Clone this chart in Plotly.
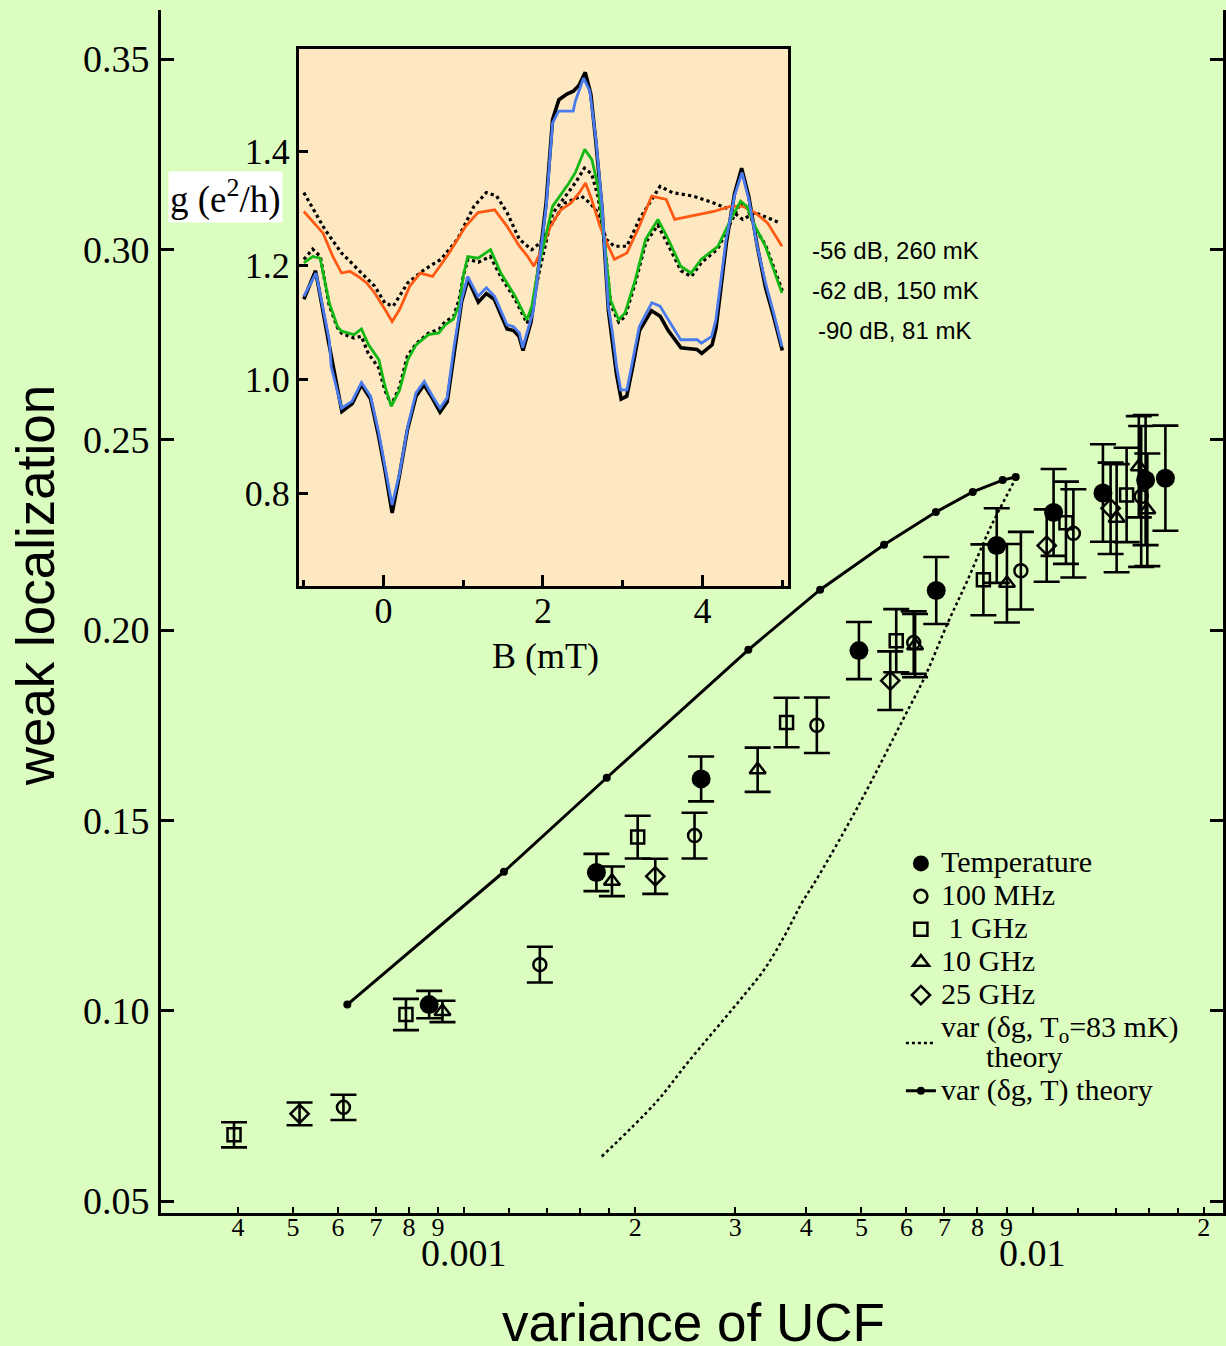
import math
import plotly.graph_objects as go

# ---------------- main panel: weak localization vs. UCF variance ----------------
temp_x = [8.68e-4, 1.709e-3, 2.612e-3, 4.95e-3, 6.77e-3, 8.65e-3, 1.089e-2, 1.33e-2, 1.581e-2, 1.713e-2]
temp_y = [0.1016, 0.1363, 0.1609, 0.1946, 0.2104, 0.2222, 0.2309, 0.2360, 0.2394, 0.2399]
temp_err = [0.0036, 0.0049, 0.0059, 0.0075, 0.0088, 0.0098, 0.0114, 0.0128, 0.0171, 0.0138]

mhz100_x = [6.133e-4, 1.359e-3, 2.543e-3, 4.174e-3, 6.18e-3, 9.539e-3, 1.18e-2, 1.553e-2]
mhz100_y = [0.0746, 0.1121, 0.1460, 0.1750, 0.1967, 0.2156, 0.2254, 0.2351]
mhz100_err = [0.0033, 0.0047, 0.0060, 0.0073, 0.0082, 0.0102, 0.0116, 0.0185]

ghz1_x = [3.937e-4, 7.9e-4, 2.02e-3, 3.692e-3, 5.757e-3, 8.195e-3, 1.145e-2, 1.464e-2]
ghz1_y = [0.0674, 0.0990, 0.1456, 0.1757, 0.1972, 0.2132, 0.2282, 0.2355]
ghz1_err = [0.0033, 0.0041, 0.0056, 0.0065, 0.0083, 0.0093, 0.0108, 0.0124]

ghz10_x = [9.16e-4, 1.82e-3, 3.284e-3, 6.214e-3, 9.015e-3, 1.406e-2, 1.538e-2, 1.592e-2]
ghz10_y = [0.0998, 0.1340, 0.1633, 0.1959, 0.2123, 0.2294, 0.2429, 0.2316]
ghz10_err = [0.0028, 0.0039, 0.0058, 0.0083, 0.0103, 0.0142, 0.0133, 0.0148]

ghz25_x = [5.134e-4, 2.169e-3, 5.619e-3, 1.059e-2, 1.372e-2]
ghz25_y = [0.0729, 0.1353, 0.1867, 0.2222, 0.2320]
ghz25_err = [0.0030, 0.0046, 0.0077, 0.0095, 0.0120]

theoT_x = [6.23e-4, 1.175e-3, 1.782e-3, 3.162e-3, 4.23e-3, 5.48e-3, 6.76e-3, 7.85e-3, 8.86e-3, 9.34e-3]
theoT_y = [0.1016, 0.1365, 0.1612, 0.1948, 0.2106, 0.2224, 0.2310, 0.2363, 0.2394, 0.2402]

theoT0_x = [1.746e-3, 2.172e-3, 2.481e-3, 3.124e-3, 3.387e-3, 3.672e-3, 3.917e-3, 4.196e-3,
            4.97e-3, 5.912e-3, 6.463e-3, 7.095e-3, 7.691e-3, 8.441e-3, 9.299e-3, 9.34e-3]
theoT0_y = [0.0617, 0.0758, 0.0866, 0.1045, 0.1112, 0.1200, 0.1280, 0.1352,
            0.1546, 0.1764, 0.1877, 0.2019, 0.2132, 0.2271, 0.2394, 0.2402]

x_tickvals = [4e-4, 5e-4, 6e-4, 7e-4, 8e-4, 9e-4, 1e-3, 2e-3, 3e-3, 4e-3, 5e-3, 6e-3,
              7e-3, 8e-3, 9e-3, 1e-2, 2e-2]
x_ticktext = ["4", "5", "6", "7", "8", "9", "", "2", "3", "4", "5", "6", "7", "8", "9", "", "2"]
x_minor = [1.2e-3, 1.4e-3, 1.6e-3, 1.8e-3, 1.2e-2, 1.4e-2, 1.6e-2, 1.8e-2]
decade_vals = [1e-3, 1e-2]
decade_text = ["0.001", "0.01"]
y_tickvals = [0.05, 0.10, 0.15, 0.20, 0.25, 0.30, 0.35]
y_ticktext = ["0.05", "0.10", "0.15", "0.20", "0.25", "0.30", "0.35"]

# ---------------- inset: conductance traces g(B) ----------------
blue_B = [-0.997, -0.845, -0.679, -0.654, -0.524, -0.394, -0.275, -0.161, -0.057, 0.021, 0.109,
          0.203, 0.306, 0.409, 0.512, 0.616, 0.710, 0.798, 0.886, 0.980, 1.057, 1.186, 1.290,
          1.394, 1.550, 1.628, 1.705, 1.746, 1.834, 1.880, 1.938, 2.041, 2.120, 2.196, 2.379,
          2.405, 2.509, 2.587, 2.664, 2.741, 2.819, 2.871, 2.923, 2.975, 3.052, 3.130, 3.207,
          3.364, 3.467, 3.571, 3.726, 3.934, 3.985, 4.115, 4.167, 4.296, 4.400, 4.494, 4.581,
          4.685, 4.789, 4.891, 4.996]
blue_g = [1.145, 1.186, 1.069, 1.022, 0.949, 0.961, 0.994, 0.970, 0.905, 0.847, 0.779,
          0.835, 0.917, 0.976, 0.996, 0.970, 0.949, 0.967, 1.057, 1.139, 1.180, 1.145, 1.160,
          1.145, 1.095, 1.092, 1.081, 1.055, 1.100, 1.120, 1.186, 1.303, 1.449, 1.470, 1.470,
          1.487, 1.528, 1.505, 1.420, 1.303, 1.128, 1.081, 1.022, 0.981, 0.981, 1.034, 1.092,
          1.134, 1.128, 1.104, 1.069, 1.069, 1.063, 1.075, 1.104, 1.245, 1.321, 1.362, 1.315,
          1.233, 1.169, 1.116, 1.057]

raw90_B = [-0.997, -0.85, -0.68, -0.52, -0.39, -0.275, -0.16, -0.06, 0.02, 0.11, 0.2, 0.3,
           0.41, 0.51, 0.62, 0.71, 0.8, 0.89, 0.98, 1.06, 1.19, 1.29, 1.39, 1.55, 1.63, 1.70,
           1.75, 1.85, 1.94, 2.04, 2.12, 2.2, 2.3, 2.38, 2.45, 2.53, 2.6, 2.66, 2.74, 2.82,
           2.87, 2.92, 2.98, 3.05, 3.13, 3.21, 3.36, 3.47, 3.57, 3.73, 3.93, 3.99, 4.12, 4.17,
           4.3, 4.4, 4.49, 4.58, 4.69, 4.79, 4.89, 5.0]
raw90_g = [1.14, 1.19, 1.06, 0.943, 0.957, 0.99, 0.965, 0.90, 0.84, 0.765, 0.83, 0.91,
           0.97, 0.99, 0.965, 0.942, 0.96, 1.05, 1.135, 1.175, 1.135, 1.15, 1.14, 1.088, 1.085,
           1.075, 1.05, 1.10, 1.19, 1.31, 1.455, 1.49, 1.50, 1.505, 1.515, 1.538, 1.50, 1.42,
           1.30, 1.12, 1.07, 1.01, 0.965, 0.97, 1.025, 1.085, 1.12, 1.11, 1.085, 1.055, 1.052,
           1.045, 1.06, 1.09, 1.24, 1.325, 1.37, 1.32, 1.23, 1.16, 1.11, 1.05]

green_B = [-0.997, -0.886, -0.793, -0.679, -0.575, -0.524, -0.368, -0.275, -0.186, -0.057,
           0.021, 0.099, 0.203, 0.306, 0.409, 0.565, 0.695, 0.773, 0.876, 0.95, 1.0, 1.057,
           1.186, 1.343, 1.472, 1.653, 1.799, 1.86, 1.938, 2.12, 2.326, 2.405, 2.524, 2.613,
           2.69, 2.768, 2.846, 2.949, 3.028, 3.157, 3.286, 3.441, 3.571, 3.726, 3.856, 3.985,
           4.193, 4.374, 4.478, 4.555, 4.659, 4.789, 4.891, 4.996]
green_g = [1.204, 1.215, 1.212, 1.134, 1.092, 1.084, 1.078, 1.088, 1.060, 1.034,
           0.987, 0.952, 0.981, 1.034, 1.060, 1.078, 1.081, 1.095, 1.105, 1.13, 1.18, 1.215,
           1.212, 1.227, 1.186, 1.145, 1.104, 1.128, 1.192, 1.303, 1.344, 1.362, 1.403, 1.385,
           1.338, 1.245, 1.139, 1.104, 1.116, 1.174, 1.245, 1.280, 1.245, 1.198, 1.186, 1.210,
           1.233, 1.286, 1.312, 1.303, 1.268, 1.233, 1.192, 1.151]

raw62_B = [-0.997, -0.886, -0.79, -0.68, -0.575, -0.52, -0.37, -0.275, -0.19, -0.06, 0.02,
           0.1, 0.2, 0.3, 0.41, 0.56, 0.7, 0.77, 0.88, 0.95, 1.0, 1.06, 1.19, 1.34, 1.47, 1.65,
           1.8, 1.86, 1.94, 2.12, 2.33, 2.41, 2.52, 2.61, 2.69, 2.77, 2.85, 2.95, 3.03, 3.16,
           3.29, 3.44, 3.57, 3.73, 3.86, 3.99, 4.19, 4.37, 4.48, 4.56, 4.66, 4.79, 4.89, 5.0]
raw62_g = [1.21, 1.228, 1.215, 1.13, 1.09, 1.08, 1.072, 1.075, 1.045, 1.02, 0.98,
           0.955, 0.985, 1.04, 1.062, 1.08, 1.088, 1.10, 1.11, 1.14, 1.18, 1.21, 1.205, 1.215,
           1.18, 1.14, 1.098, 1.12, 1.18, 1.29, 1.33, 1.345, 1.37, 1.36, 1.32, 1.24, 1.13, 1.10,
           1.11, 1.17, 1.24, 1.27, 1.235, 1.19, 1.18, 1.205, 1.228, 1.28, 1.31, 1.30, 1.265,
           1.235, 1.195, 1.155]

orange_B = [-0.997, -0.886, -0.756, -0.634, -0.524, -0.42, -0.316, -0.213, -0.109, 0.021,
            0.109, 0.203, 0.331, 0.461, 0.616, 0.824, 1.031, 1.186, 1.394, 1.55, 1.705, 1.809,
            1.886, 1.964, 2.094, 2.224, 2.352, 2.456, 2.533, 2.611, 2.715, 2.819, 2.896, 3.052,
            3.207, 3.363, 3.545, 3.651, 3.881, 4.14, 4.347, 4.504, 4.659, 4.814, 4.996]
orange_g = [1.294, 1.277, 1.256, 1.215, 1.186, 1.189, 1.180, 1.169, 1.151, 1.122,
            1.101, 1.122, 1.163, 1.186, 1.180, 1.221, 1.268, 1.292, 1.297, 1.268, 1.233, 1.215,
            1.198, 1.221, 1.268, 1.297, 1.309, 1.327, 1.344, 1.315, 1.268, 1.233, 1.210, 1.221,
            1.268, 1.321, 1.315, 1.280, 1.286, 1.294, 1.303, 1.303, 1.292, 1.274, 1.233]

raw56_B = [-0.997, -0.731, -0.524, -0.265, -0.109, 0.021, 0.124, 0.306, 0.512, 0.721, 0.928,
           1.135, 1.29, 1.42, 1.55, 1.705, 1.86, 1.964, 2.094, 2.275, 2.483, 2.587, 2.69, 2.794,
           2.896, 3.052, 3.207, 3.467, 3.623, 3.881, 4.14, 4.347, 4.504, 4.659, 4.97]
raw56_g = [1.327, 1.262, 1.221, 1.186, 1.163, 1.133, 1.128, 1.169, 1.192, 1.210, 1.245,
           1.303, 1.327, 1.321, 1.292, 1.245, 1.227, 1.239, 1.268, 1.309, 1.321, 1.309, 1.292,
           1.245, 1.233, 1.233, 1.280, 1.338, 1.327, 1.321, 1.309, 1.297, 1.280, 1.292, 1.274]

inset_labels = ["-56 dB, 260 mK", "-62 dB, 150 mK", "-90 dB, 81 mK"]

GREEN_BG = "#dcfdc0"
INSET_BG = "#fee8c2"
SERIF = "Liberation Serif"
SANS = "Liberation Sans"


def big(txt):
    # legend entries use a larger glyph size than the row pitch implies
    return "<span style='font-size:30px'>" + txt + "</span>"


fig = go.Figure()


def add_series(x, y, err, name, symbol, size, lw):
    # error bars as a separate, legend-less trace so the legend shows only the symbol
    fig.add_trace(go.Scatter(
        x=x, y=y, mode="markers", showlegend=False, hoverinfo="skip",
        marker=dict(size=1, color="rgba(0,0,0,0)"),
        error_y=dict(type="data", array=err, visible=True, color="black",
                     thickness=2.6, width=13)))
    fig.add_trace(go.Scatter(
        x=x, y=y, mode="markers", name=big(name),
        marker=dict(symbol=symbol, size=size, color="black",
                    line=dict(color="black", width=lw))))


add_series(temp_x, temp_y, temp_err, "Temperature", "circle", 19, 0)
add_series(mhz100_x, mhz100_y, mhz100_err, "100 MHz", "circle-open", 13, 2.5)
add_series(ghz1_x, ghz1_y, ghz1_err, " 1 GHz", "square-open", 13, 2.5)
add_series(ghz10_x, ghz10_y, ghz10_err, "10 GHz", "triangle-up-open", 14, 2.5)
add_series(ghz25_x, ghz25_y, ghz25_err, "25 GHz", "diamond-open", 14, 2.5)

fig.add_trace(go.Scatter(
    x=theoT0_x, y=theoT0_y, mode="lines", line_shape="spline",
    name=big("var (δg, T<sub>o</sub>=83 mK)") + "<br>" +
    big("\u00a0\u00a0\u00a0\u00a0\u00a0\u00a0theory"),
    line=dict(color="black", width=2.5, dash="dot")))
fig.add_trace(go.Scatter(
    x=theoT_x, y=theoT_y, mode="lines+markers", name=big("var (δg, T) theory"),
    line=dict(color="black", width=3),
    marker=dict(symbol="circle", size=8, color="black")))

# inset traces: measured curves (black) first, smooth coloured curves on top
for B, g, dash, w in [(raw56_B, raw56_g, "dot", 3.2), (raw62_B, raw62_g, "dot", 3.2),
                      (raw90_B, raw90_g, "solid", 3.6)]:
    fig.add_trace(go.Scatter(x=B, y=g, mode="lines", xaxis="x2", yaxis="y2",
                             showlegend=False, line=dict(color="black", width=w, dash=dash)))
for B, g, col in [(orange_B, orange_g, "#ff5a14"), (green_B, green_g, "#14b814"),
                  (blue_B, blue_g, "#4a7cf0")]:
    fig.add_trace(go.Scatter(x=B, y=g, mode="lines", xaxis="x2", yaxis="y2",
                             showlegend=False, line=dict(color=col, width=2.8)))

# plot area spans x 161..1226, y 10..1213 px
L, R, T, Bm = 161, 1226, 10, 1213
PW, PH = R - L, Bm - T


def px(xp):
    return (xp - L) / PW


def py(yp):
    return (Bm - yp) / PH


inset_dom_x = [px(299), px(790)]
inset_dom_y = [py(586), py(49)]

fig.update_layout(
    width=1226, height=1346,
    margin=dict(l=L, r=1226 - R, t=T, b=1346 - Bm),
    paper_bgcolor=GREEN_BG, plot_bgcolor="rgba(0,0,0,0)",
    font=dict(family=SERIF, color="black"),
    xaxis=dict(type="log", range=[-3.5333, -1.6649], showgrid=False, zeroline=False,
               showline=True, linecolor="black", linewidth=3,
               ticks="inside", ticklen=6, tickwidth=2, tickcolor="black",
               tickvals=x_tickvals, ticktext=x_ticktext,
               tickfont=dict(family=SERIF, size=26), ticklabelstandoff=-11,
               minor=dict(tickvals=x_minor, ticks="inside", ticklen=5, tickwidth=2,
                          tickcolor="black")),
    yaxis=dict(range=[0.04685, 0.3629], showgrid=False, zeroline=False,
               showline=True, linecolor="black", linewidth=3, mirror="ticks",
               ticks="inside", ticklen=13, tickwidth=2.5, tickcolor="black",
               tickvals=y_tickvals, ticktext=y_ticktext,
               tickfont=dict(family=SERIF, size=38), ticklabelstandoff=1),
    xaxis2=dict(domain=inset_dom_x, anchor="y2", range=[-1.0625, 5.074],
                showgrid=False, zeroline=False, showline=True, mirror=True,
                linecolor="black", linewidth=2.5,
                ticks="inside", ticklen=11, tickwidth=2.5, tickcolor="black",
                tickvals=[0, 2, 4], ticktext=["0", "2", "4"],
                tickfont=dict(family=SERIF, size=36), ticklabelstandoff=-9,
                minor=dict(tickvals=[-1, 1, 3, 5], ticks="inside", ticklen=6,
                           tickwidth=2.5, tickcolor="black")),
    yaxis2=dict(domain=inset_dom_y, anchor="x2", range=[0.637, 1.579],
                showgrid=False, zeroline=False, showline=True, mirror=True,
                linecolor="black", linewidth=2.5,
                ticks="inside", ticklen=10, tickwidth=2.5, tickcolor="black",
                tickvals=[0.8, 1.0, 1.2, 1.4], ticktext=["0.8", "1.0", "1.2", "1.4"],
                tickfont=dict(family=SERIF, size=36), ticklabelstandoff=-1),
    legend=dict(x=px(903), y=py(842), xanchor="left", yanchor="top",
                bgcolor="rgba(0,0,0,0)", font=dict(family=SERIF, size=23),
                tracegroupgap=0, itemwidth=30),
    showlegend=True,
)

fig.add_shape(type="rect", xref="x2 domain", yref="y2 domain", x0=0, x1=1, y0=0, y1=1,
              fillcolor=INSET_BG, line=dict(width=0), layer="below")

annots = [
    dict(text="weak localization", x=px(35), y=py(585), xref="paper", yref="paper",
         xanchor="center", yanchor="middle",
         textangle=-90, font=dict(family=SANS, size=53), showarrow=False),
    dict(text="variance of UCF", x=px(695), y=py(1322), xref="paper", yref="paper",
         xanchor="center", yanchor="middle",
         font=dict(family=SANS, size=53), showarrow=False),
    dict(text="B (mT)", x=px(547), y=py(656), xref="paper", yref="paper",
         xanchor="center", yanchor="middle",
         font=dict(family=SERIF, size=36), showarrow=False),
    dict(text="g (e<sup>2</sup>/h)", x=px(226), y=py(197), xref="paper", yref="paper",
         xanchor="center", yanchor="middle",
         font=dict(family=SERIF, size=37), showarrow=False, bgcolor="white", borderpad=1),
]
for val, txt in zip(decade_vals, decade_text):
    annots.append(dict(text=txt, x=math.log10(val), y=py(1253), xref="x", yref="paper",
                       xanchor="center", yanchor="middle",
                       font=dict(family=SERIF, size=38), showarrow=False))
for txt, xl, yc in zip(inset_labels, [812, 812, 818], [250, 290, 330]):
    annots.append(dict(text=txt, x=px(xl), y=py(yc), xref="paper", yref="paper",
                       xanchor="left", yanchor="middle",
                       font=dict(family=SANS, size=24), showarrow=False))
fig.update_layout(annotations=annots)

fig.write_html("out.html")
